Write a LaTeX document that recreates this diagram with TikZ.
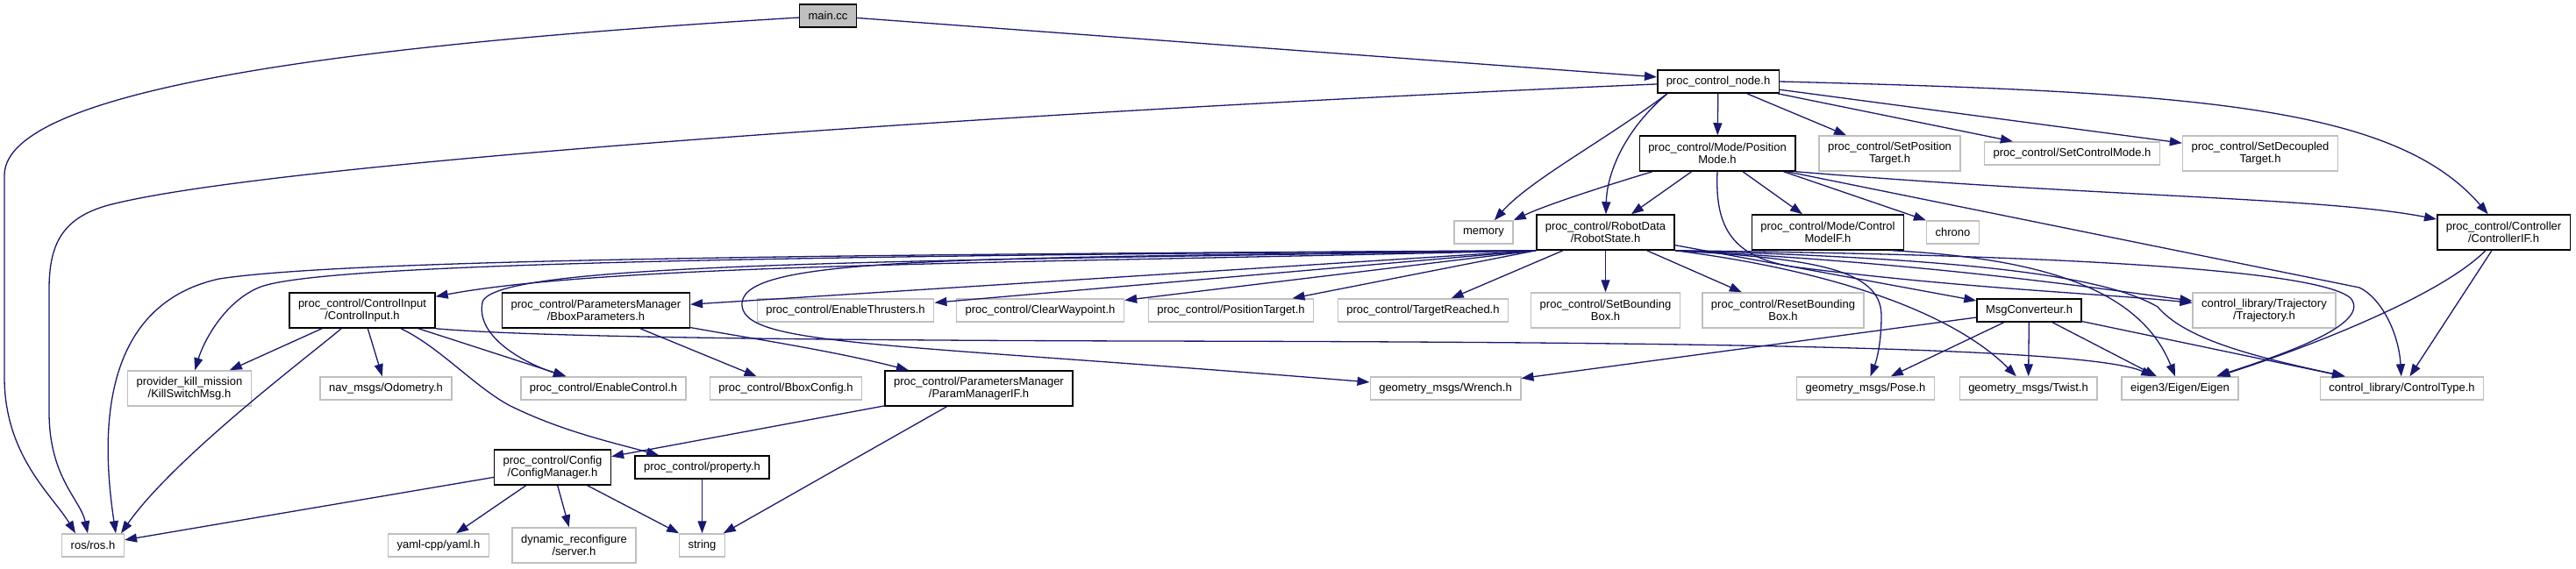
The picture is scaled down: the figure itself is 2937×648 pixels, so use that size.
\documentclass[tikz,border=0pt]{standalone}
\usepackage{fontspec}
\setmainfont{Liberation Sans}
\usetikzlibrary{arrows.meta}
\definecolor{midnightblue}{RGB}{25,25,112}
\definecolor{boxgray}{RGB}{191,191,191}
\tikzset{
    localhdr/.style={rectangle, draw=black, line width=1.5pt, fill=white, align=center,
        inner xsep=10pt, inner ysep=3pt, minimum height=26pt, font=\fontsize{13}{13.5}\selectfont},
    syshdr/.style={localhdr, draw=boxgray},
    mainfile/.style={localhdr, fill=boxgray},
    twoline/.style={minimum height=40pt},
    incl/.style={draw=midnightblue, line width=1.3pt, -{Triangle[length=14pt,width=10pt]}}
}
\begin{document}
\begin{tikzpicture}[x=1pt, y=-1pt]
    \path[fill=white, use as bounding box] (0,0) rectangle (2937,648);

    \node[mainfile] (main) at (944,18) {main.cc};
    \node[localhdr] (ctrlnode) at (1959,93) {proc\_control\_node.h};

    \node[localhdr, twoline] (posmode) at (1958,175) {proc\_control/Mode/Position\\Mode.h};
    \node[syshdr, twoline] (setpos) at (2154.5,175) {proc\_control/SetPosition\\Target.h};
    \node[syshdr] (setctrl) at (2362.5,175) {proc\_control/SetControlMode.h};
    \node[syshdr, twoline] (setdec) at (2577,175) {proc\_control/SetDecoupled\\Target.h};

    \node[syshdr] (memory) at (1691.5,265) {memory};
    \node[localhdr, twoline] (robotstate) at (1830.5,265) {proc\_control/RobotData\\/RobotState.h};
    \node[localhdr, twoline] (ctrlmodel) at (2084,265) {proc\_control/Mode/Control\\ModelF.h};
    \node[syshdr] (chrono) at (2226.5,265) {chrono};
    \node[localhdr, twoline] (ctrlif) at (2854.5,265) {proc\_control/Controller\\/ControllerIF.h};

    \node[localhdr, twoline] (ctrlinput) at (413,354) {proc\_control/ControlInput\\/ControlInput.h};
    \node[localhdr, twoline] (bboxparam) at (679.5,354) {proc\_control/ParametersManager\\/BboxParameters.h};
    \node[syshdr] (enthr) at (964,354) {proc\_control/EnableThrusters.h};
    \node[syshdr] (clearwp) at (1186,354) {proc\_control/ClearWaypoint.h};
    \node[syshdr] (postarget) at (1403.5,354) {proc\_control/PositionTarget.h};
    \node[syshdr] (tgtreached) at (1622.5,354) {proc\_control/TargetReached.h};
    \node[syshdr, twoline] (setbbox) at (1830.5,354) {proc\_control/SetBounding\\Box.h};
    \node[syshdr, twoline] (resetbbox) at (2033,354) {proc\_control/ResetBounding\\Box.h};
    \node[localhdr] (msgconv) at (2313.5,354) {MsgConverteur.h};
    \node[syshdr, twoline] (traj) at (2581.5,354) {control\_library/Trajectory\\/Trajectory.h};

    \node[syshdr, twoline] (killswitch) at (216,443) {provider\_kill\_mission\\/KillSwitchMsg.h};
    \node[syshdr] (odom) at (440,443) {nav\_msgs/Odometry.h};
    \node[syshdr] (enctrl) at (688,443) {proc\_control/EnableControl.h};
    \node[syshdr] (bboxcfg) at (896,443) {proc\_control/BboxConfig.h};
    \node[localhdr, twoline] (parammgr) at (1116,443) {proc\_control/ParametersManager\\/ParamManagerIF.h};
    \node[syshdr] (wrench) at (1648,443) {geometry\_msgs/Wrench.h};
    \node[syshdr] (pose) at (2127,443) {geometry\_msgs/Pose.h};
    \node[syshdr] (twist) at (2312.5,443) {geometry\_msgs/Twist.h};
    \node[syshdr] (eigen) at (2485.5,443) {eigen3/Eigen/Eigen};
    \node[syshdr] (ctrltype) at (2738.5,443) {control\_library/ControlType.h};

    \node[localhdr, twoline] (cfgmgr) at (630,533) {proc\_control/Config\\/ConfigManager.h};
    \node[localhdr] (property) at (800.5,533) {proc\_control/property.h};

    \node[syshdr] (ros) at (106,622) {ros/ros.h};
    \node[syshdr] (yaml) at (500,622) {yaml-cpp/yaml.h};
    \node[syshdr, twoline] (dynrec) at (654.5,622) {dynamic\_reconfigure\\/server.h};
    \node[syshdr] (string) at (800.5,622) {string};

    \foreach \a/\b in {main/ctrlnode, ctrlnode/posmode, ctrlnode/setpos, ctrlnode/setctrl, ctrlnode/setdec,
        posmode/robotstate, posmode/ctrlmodel, robotstate/tgtreached, robotstate/setbbox, robotstate/resetbbox,
        robotstate/msgconv, msgconv/wrench, msgconv/pose, msgconv/twist, msgconv/eigen, msgconv/ctrltype,
        ctrlif/ctrltype, ctrlinput/killswitch, ctrlinput/odom, ctrlinput/enctrl, bboxparam/bboxcfg,
        parammgr/cfgmgr, parammgr/string, cfgmgr/ros, cfgmgr/yaml, cfgmgr/dynrec, cfgmgr/string, property/string}
        \draw[incl] (\a) -- (\b);
    \foreach \b in {enthr, clearwp, postarget, bboxparam}
        \draw[incl] (robotstate.south west) -- (\b);

    \draw[incl] (main) .. controls (500,45) and (5,90) .. (5,200) -- (5,430) .. controls (5,520) and (60,565) .. ([xshift=-20pt]ros.north);
    \draw[incl] (ctrlnode) .. controls (1200,125) and (300,185) .. (120,235) .. controls (70,250) and (56,280) .. (56,330) -- (56,470) .. controls (56,545) and (92,570) .. ([xshift=-6pt]ros.north);
    \draw[incl] ([xshift=-58pt]ctrlnode.south) .. controls (1830,160) and (1745,205) .. (memory);
    \draw[incl] ([xshift=-58pt]ctrlnode.south) .. controls (1850,150) and (1832,200) .. (robotstate);
    \draw[incl] (ctrlnode.east) .. controls (2500,105) and (2730,120) .. (ctrlif);

    \draw[incl] ([xshift=-74pt]posmode.south) .. controls (1820,215) and (1760,235) .. (memory.north east);
    \draw[incl] ([xshift=-14pt]posmode.south east) -- (chrono.north west);
    \draw[incl] (posmode.south east) .. controls (2400,225) and (2650,225) .. (ctrlif);
    \draw[incl] ([xshift=-10pt]posmode.south east) -- (2690,328) .. controls (2715,340) and (2735,380) .. (ctrltype);
    \draw[incl] (posmode.south) .. controls (1955,260) and (1975,295) .. (2050,305) .. controls (2250,330) and (2400,335) .. (traj);

    \draw[incl] (robotstate.south west) .. controls (1000,290) and (400,295) .. (250,318) .. controls (150,340) and (105,430) .. ([xshift=26pt]ros.north);
    \draw[incl] (robotstate.south west) .. controls (900,292) and (360,300) .. (295,328) .. controls (255,345) and (232,390) .. (killswitch);
    \draw[incl] (robotstate.south west) .. controls (1200,300) and (700,300) .. (ctrlinput);
    \draw[incl] (robotstate.south west) .. controls (1000,298) and (560,300) .. (550,345) .. controls (542,385) and (600,415) .. (enctrl);
    \draw[incl] (robotstate.south west) .. controls (1100,295) and (852,292) .. (846,345) .. controls (842,395) and (1000,390) .. (wrench);
    \draw[incl] (robotstate.south east) .. controls (2200,300) and (2400,330) .. (traj);
    \draw[incl] (robotstate.south east) .. controls (2100,310) and (2230,360) .. (twist);
    \draw[incl] (robotstate.south east) .. controls (2060,295) and (2145,305) .. (2145,360) .. controls (2145,390) and (2140,410) .. (pose);
    \draw[incl] (robotstate.south east) .. controls (2300,290) and (2640,305) .. (2680,340) .. controls (2705,370) and (2600,405) .. (eigen);
    \draw[incl] (robotstate.south east) .. controls (2250,295) and (2400,315) .. (2460,350) .. controls (2490,385) and (2560,405) .. (ctrltype);

    \draw[incl] ([xshift=-14pt]ctrlmodel.south east) .. controls (2330,295) and (2440,330) .. (eigen);
    \draw[incl] (ctrlif) .. controls (2780,340) and (2620,400) .. (eigen);

    \draw[incl] (ctrlinput) .. controls (360,400) and (200,520) .. ([xshift=32pt]ros.north);
    \draw[incl] (ctrlinput) .. controls (500,395) and (540,440) .. (580,462) .. controls (640,492) and (700,505) .. (property);
    \draw[incl] (ctrlinput.south east) .. controls (600,384) and (900,388) .. (1300,389) .. controls (1900,390) and (2380,395) .. (eigen);
    \draw[incl] (bboxparam) .. controls (850,385) and (950,400) .. (parammgr);
\end{tikzpicture}
\end{document}
